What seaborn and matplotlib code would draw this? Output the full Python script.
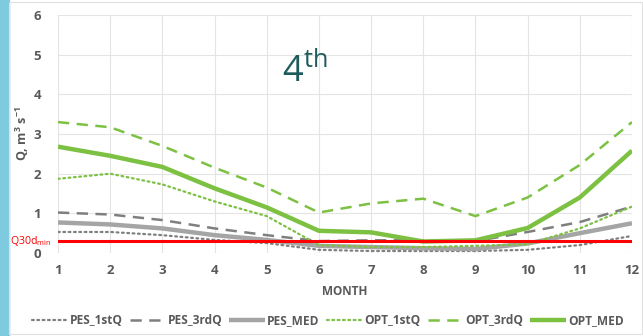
import matplotlib
matplotlib.use("Agg")
import matplotlib.pyplot as plt
from matplotlib.patches import Rectangle
import seaborn as sns

months = list(range(1, 13))

pes_1stq = [0.53, 0.53, 0.45, 0.33, 0.25, 0.08, 0.05, 0.05, 0.05, 0.08, 0.20, 0.43]
pes_3rdq = [1.02, 0.97, 0.83, 0.62, 0.45, 0.30, 0.32, 0.32, 0.30, 0.53, 0.78, 1.17]
pes_med = [0.77, 0.72, 0.62, 0.45, 0.33, 0.18, 0.15, 0.12, 0.10, 0.24, 0.50, 0.75]
opt_1stq = [1.87, 2.00, 1.73, 1.30, 0.93, 0.20, 0.15, 0.15, 0.18, 0.22, 0.62, 1.17]
opt_3rdq = [3.30, 3.17, 2.70, 2.15, 1.65, 1.02, 1.25, 1.37, 0.93, 1.40, 2.22, 3.30]
opt_med = [2.68, 2.45, 2.17, 1.63, 1.15, 0.56, 0.52, 0.29, 0.32, 0.63, 1.40, 2.58]

q30d_min = 0.30
panel_label = "4"

series_names = ["PES_1stQ", "PES_3rdQ", "PES_MED", "OPT_1stQ", "OPT_3rdQ", "OPT_MED"]

sns.set_theme(style="white")
plt.rcParams["font.family"] = ["Open Sans", "DejaVu Sans"]
plt.rcParams["mathtext.fontset"] = "custom"
plt.rcParams["mathtext.rm"] = "Open Sans"
plt.rcParams["mathtext.bf"] = "Open Sans:bold"

fig = plt.figure(figsize=(6.43, 3.36), dpi=100)
ax = fig.add_axes([58 / 643, (336 - 253) / 336, (632 - 58) / 643, (253 - 15) / 336])

gray_dark = "#7f7f7f"
gray_light = "#a5a5a5"
green = "#7cc142"

styles = {
    "PES_1stQ": dict(color=gray_dark, lw=1.6, dashes=(0.8, 1.6)),
    "PES_3rdQ": dict(color=gray_dark, lw=1.8, dashes=(4.5, 3)),
    "PES_MED": dict(color=gray_light, lw=3.2, dashes=()),
    "OPT_1stQ": dict(color=green, lw=1.6, dashes=(0.8, 1.6)),
    "OPT_3rdQ": dict(color=green, lw=1.8, dashes=(4.5, 3)),
    "OPT_MED": dict(color=green, lw=3.2, dashes=()),
}
values = dict(zip(series_names, [pes_1stq, pes_3rdq, pes_med, opt_1stq, opt_3rdq, opt_med]))

for name in series_names:
    st = styles[name]
    sns.lineplot(x=months, y=values[name], ax=ax, color=st["color"], lw=st["lw"], label=name)
    line = ax.lines[-1]
    if st["dashes"]:
        line.set_dashes(st["dashes"])
    line.set_solid_capstyle("butt")
    line.set_dash_capstyle("round" if st["dashes"] and st["dashes"][0] < 1 else "butt")

# minimum flow threshold
ax.axhline(q30d_min, color="#ff0000", lw=2.2, zorder=5)

ax.set_xlim(1, 12)
ax.set_ylim(0, 6)
ax.set_xticks(months)
ax.set_yticks(range(0, 7))
ax.grid(True, color="#e4e4e4", lw=0.8)
for s in ax.spines.values():
    s.set_visible(False)
ax.tick_params(axis="both", length=0, labelsize=9.5, labelcolor="#595959", pad=8)
for lbl in ax.get_xticklabels() + ax.get_yticklabels():
    lbl.set_fontweight("bold")
ax.tick_params(axis="y", pad=12)

ax.set_xlabel("MONTH", fontsize=8.5, fontweight="bold", color="#595959", labelpad=6)
ax.set_ylabel(r"Q, m$^{\mathbf{3}}$ s$^{\mathbf{-1}}$", fontsize=9, fontweight="bold",
              color="#595959", labelpad=2)

ax.text(-0.012, q30d_min, r"Q30d$_{\mathrm{min}}$", transform=ax.get_yaxis_transform(),
        ha="right", va="center", color="#ff0000", fontsize=7.6)

ax.text(0.43, 0.76, panel_label + r"$^{\mathrm{th}}$", transform=ax.transAxes,
        ha="center", va="center", fontsize=26, color="#1f5a5c")

ax.get_legend().remove()
handles, labels = ax.get_legend_handles_labels()
fig.legend(handles, labels, loc="lower center", bbox_to_anchor=(0.51, -0.005), ncol=6,
           frameon=False, handlelength=3.0, handletextpad=0.15,
           columnspacing=0.6, labelcolor="#595959", prop=dict(weight="bold", size=8.6))

# frame and side strip
fig.patches.append(Rectangle((0, 0), 9 / 643, 1, transform=fig.transFigure,
                             color="#7ecbe0", zorder=0))
fig.patches.append(Rectangle((9 / 643, 0.005), 1 - 10 / 643, 0.99, transform=fig.transFigure,
                             fill=False, ec="#e0e0e0", lw=0.8, zorder=0))

fig.savefig("out.png", dpi=100)
